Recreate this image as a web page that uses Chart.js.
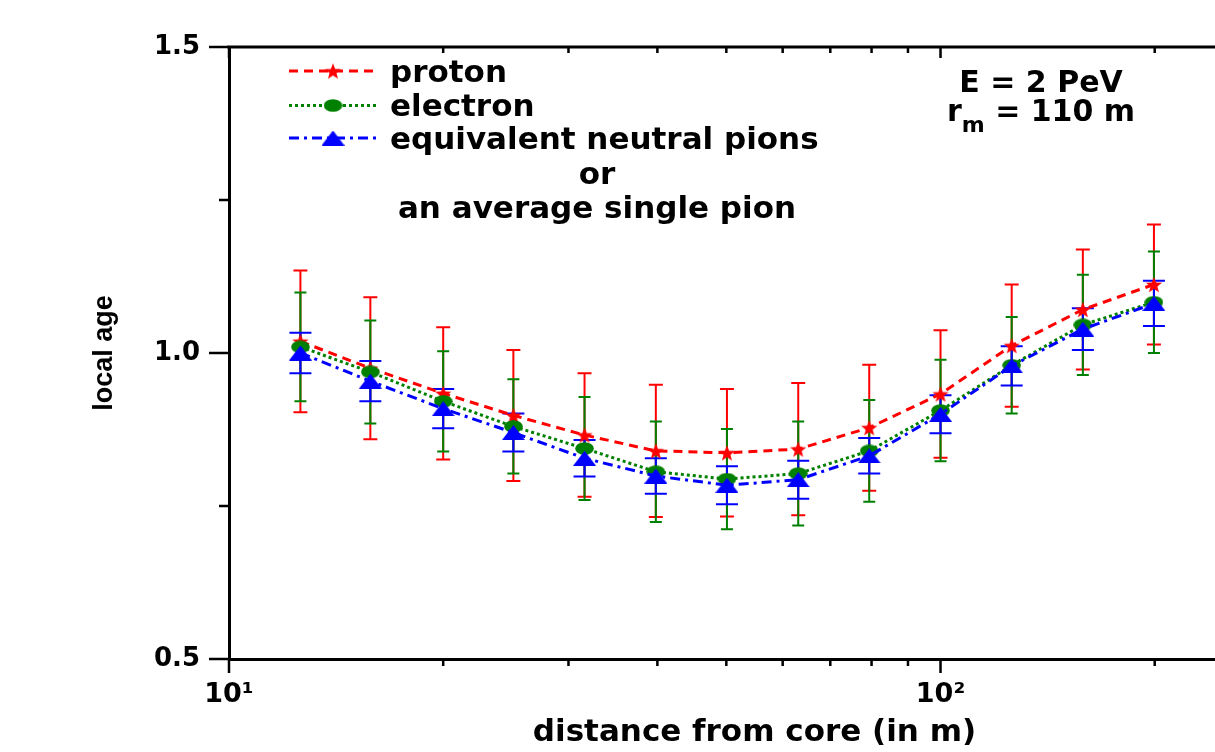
<!DOCTYPE html>
<html><head><meta charset="utf-8">
<script src="https://cdn.jsdelivr.net/npm/chart.js@4.4.1/dist/chart.umd.min.js"></script>
<style>
html,body{margin:0;padding:0;background:#fff;overflow:hidden;}
#wrap{width:1215px;height:752px;overflow:hidden;position:relative;}
canvas{display:block;}
</style>
</head><body>
<div id="wrap"><canvas id="c" width="1300" height="752" style="width:1300px;height:752px"></canvas></div>
<script>
// ---- data ----
const distances   = [12.6, 15.8, 20.0, 25.1, 31.6, 39.8, 50.1, 63.1, 79.4, 100, 125.9, 158.5, 199.5];
const protonAge   = [1.019, 0.975, 0.934, 0.898, 0.866, 0.840, 0.837, 0.843, 0.878, 0.933, 1.012, 1.071, 1.112];
const protonErr   = [0.116, 0.116, 0.108, 0.107, 0.101, 0.108, 0.104, 0.108, 0.103, 0.104, 0.100, 0.098, 0.098];
const electronAge = [1.010, 0.969, 0.921, 0.880, 0.844, 0.806, 0.794, 0.803, 0.840, 0.906, 0.980, 1.046, 1.083];
const electronErr = [0.089, 0.084, 0.082, 0.077, 0.084, 0.082, 0.082, 0.085, 0.083, 0.083, 0.079, 0.082, 0.083];
const pionAge     = [1.000, 0.954, 0.909, 0.870, 0.828, 0.799, 0.784, 0.793, 0.832, 0.900, 0.979, 1.039, 1.081];
const pionErr     = [0.033, 0.033, 0.032, 0.031, 0.030, 0.029, 0.031, 0.031, 0.029, 0.031, 0.032, 0.034, 0.037];
const xTickValues = [10, 20, 30, 40, 50, 60, 70, 80, 90, 100, 200, 300];
const xTickLabels = {10: '10\u00B9', 100: '10\u00B2'};
const yTickValues = [0.5, 0.75, 1.0, 1.25, 1.5];
const yTickLabels = {0.5: '0.5', 1: '1.0', 1.5: '1.5'};
const seriesLabels = ['proton', 'electron', 'equivalent neutral pions'];
const legendExtra  = ['or', 'an average single pion'];
const energyText   = 'E = 2 PeV';
const radiusText   = ['r', 'm', ' = 110 m'];

// ---- marker images ----
function starImage(color) {
  const c = document.createElement('canvas'); c.width = 18; c.height = 17;
  const g = c.getContext('2d');
  const cx = 9, cy = 9.3, R = 8.5, r = 3.6;
  g.beginPath();
  for (let k = 0; k < 10; k++) {
    const rad = (k % 2) ? r : R;
    const a = -Math.PI / 2 + k * Math.PI / 5;
    const px = cx + rad * Math.cos(a), py = cy + rad * Math.sin(a);
    if (k) g.lineTo(px, py); else g.moveTo(px, py);
  }
  g.closePath(); g.fillStyle = color; g.fill();
  return c;
}
function ellipseImage(color) {
  const c = document.createElement('canvas'); c.width = 19; c.height = 13;
  const g = c.getContext('2d');
  g.beginPath(); g.ellipse(9.5, 6.5, 9.3, 6.3, 0, 0, Math.PI * 2);
  g.fillStyle = color; g.fill();
  return c;
}
function triangleImage(color) {
  const c = document.createElement('canvas'); c.width = 23; c.height = 15;
  const g = c.getContext('2d');
  g.beginPath(); g.moveTo(11.5, 0); g.lineTo(23, 15); g.lineTo(0, 15); g.closePath();
  g.fillStyle = color; g.fill();
  return c;
}

const RED = '#ff0000', GREEN = '#008000', BLUE = '#0000ff';
const markers = [starImage(RED), ellipseImage(GREEN), triangleImage(BLUE)];
const errs = [protonErr, electronErr, pionErr];
const capW = [14, 12, 22];
const pts = (ys) => distances.map((d, i) => ({x: d, y: ys[i]}));

const datasets = [
  {label: seriesLabels[0], data: pts(protonAge), borderColor: RED, backgroundColor: RED, borderWidth: 3,
   borderDash: [9, 6], pointStyle: markers[0], pointRadius: 8, pointHoverRadius: 8, tension: 0, fill: false, order: 3},
  {label: seriesLabels[1], data: pts(electronAge), borderColor: GREEN, backgroundColor: GREEN, borderWidth: 3,
   borderDash: [3, 3], pointStyle: markers[1], pointRadius: 8, pointHoverRadius: 8, tension: 0, fill: false, order: 2},
  {label: seriesLabels[2], data: pts(pionAge), borderColor: BLUE, backgroundColor: BLUE, borderWidth: 3,
   borderDash: [10, 5, 3, 5], pointStyle: markers[2], pointRadius: 8, pointHoverRadius: 8, tension: 0, fill: false, order: 1}
];

const decor = {
  id: 'decor',
  beforeDatasetsDraw(chart) {
    const ctx = chart.ctx, ys = chart.scales.y;
    ctx.save();
    chart.data.datasets.forEach((ds, i) => {
      const meta = chart.getDatasetMeta(i);
      ctx.strokeStyle = ds.borderColor; ctx.lineWidth = 2; ctx.setLineDash([]);
      meta.data.forEach((el, j) => {
        const v = ds.data[j].y, e = errs[i][j];
        const x = el.x, yt = ys.getPixelForValue(v + e), yb = ys.getPixelForValue(v - e);
        const w = capW[i] / 2;
        ctx.beginPath();
        ctx.moveTo(x, yt); ctx.lineTo(x, yb);
        ctx.moveTo(x - w, yt); ctx.lineTo(x + w, yt);
        ctx.moveTo(x - w, yb); ctx.lineTo(x + w, yb);
        ctx.stroke();
      });
    });
    ctx.restore();
  },
  afterDraw(chart) {
    const ctx = chart.ctx, a = chart.chartArea, xs = chart.scales.x, ys = chart.scales.y;
    ctx.save();
    ctx.strokeStyle = '#000'; ctx.setLineDash([]);
    // top axis line
    ctx.lineWidth = 3;
    ctx.beginPath(); ctx.moveTo(a.left - 1.5, a.top); ctx.lineTo(a.right, a.top); ctx.stroke();
    // tick marks
    ctx.lineWidth = 2.5;
    ctx.beginPath();
    xTickValues.forEach(v => {
      const px = xs.getPixelForValue(v);
      const major = v in xTickLabels;
      ctx.moveTo(px, a.bottom); ctx.lineTo(px, a.bottom + (major ? 14 : 7));
      ctx.moveTo(px, a.top); ctx.lineTo(px, a.top + (major ? 11 : 6));
    });
    yTickValues.forEach(v => {
      const py = ys.getPixelForValue(v);
      const major = v in yTickLabels;
      ctx.moveTo(a.left - (major ? 20 : 10), py); ctx.lineTo(a.left, py);
    });
    ctx.stroke();

    // legend
    const rowMarkerY = [71, 105.5, 138], rowBase = [82, 116, 149];
    chart.data.datasets.forEach((ds, i) => {
      ctx.strokeStyle = ds.borderColor; ctx.lineWidth = 3; ctx.setLineDash(ds.borderDash);
      ctx.beginPath(); ctx.moveTo(289, rowMarkerY[i]); ctx.lineTo(377, rowMarkerY[i]); ctx.stroke();
      const m = markers[i];
      ctx.drawImage(m, 333 - m.width / 2, rowMarkerY[i] - m.height / 2);
      ctx.fillStyle = '#000'; ctx.textAlign = 'left'; ctx.textBaseline = 'alphabetic';
      ctx.font = 'bold 31px "DejaVu Sans"';
      ctx.fillText(ds.label, 390, rowBase[i]);
    });
    ctx.textAlign = 'center';
    ctx.fillText(legendExtra[0], 597, 184);
    ctx.fillText(legendExtra[1], 597, 218);

    // annotation
    ctx.font = 'bold 30px "DejaVu Sans"';
    ctx.fillText(energyText, 1041, 92);
    ctx.textAlign = 'left';
    let x = 947;
    ctx.fillText(radiusText[0], x, 121); x += ctx.measureText(radiusText[0]).width;
    ctx.font = 'bold 22px "DejaVu Sans"';
    ctx.fillText(radiusText[1], x, 132); x += ctx.measureText(radiusText[1]).width;
    ctx.font = 'bold 30px "DejaVu Sans"';
    ctx.fillText(radiusText[2], x, 121);
    ctx.restore();
  }
};

new Chart(document.getElementById('c'), {
  type: 'line',
  data: {datasets},
  options: {
    responsive: false, animation: false, devicePixelRatio: 1, events: [],
    layout: {padding: {top: 47, right: 0, left: 0, bottom: 0}},
    plugins: {legend: {display: false}, tooltip: {enabled: false}},
    scales: {
      x: {
        type: 'logarithmic', position: 'bottom', min: 10, max: 300,
        afterBuildTicks: s => { s.ticks = xTickValues.map(v => ({value: v})); },
        afterFit: s => { s.height = 93; },
        ticks: {callback: v => xTickLabels[v] || '', autoSkip: false, maxRotation: 0, minRotation: 0,
                padding: 20, color: '#000', font: {family: 'DejaVu Sans', weight: 'bold', size: 27}},
        grid: {display: false, drawTicks: false},
        border: {display: true, color: '#000', width: 3},
        title: {display: true, text: 'distance from core (in m)', color: '#000',
                font: {family: 'DejaVu Sans', weight: 'bold', size: 31}, padding: {top: 0, bottom: 0}}
      },
      y: {
        type: 'linear', position: 'left', min: 0.5, max: 1.5,
        afterBuildTicks: s => { s.ticks = yTickValues.map(v => ({value: v})); },
        afterFit: s => { s.width = 229; },
        ticks: {callback: v => yTickLabels[v] || '', padding: 29, color: '#000',
                font: {family: 'DejaVu Sans', weight: 'bold', size: 26}},
        grid: {display: false, drawTicks: false},
        border: {display: true, color: '#000', width: 3},
        title: {display: true, text: 'local age', color: '#000',
                font: {family: 'Liberation Sans', weight: 'bold', size: 27}, padding: {top: 88, bottom: 0}}
      }
    }
  },
  plugins: [decor]
});
</script>
</body></html>
